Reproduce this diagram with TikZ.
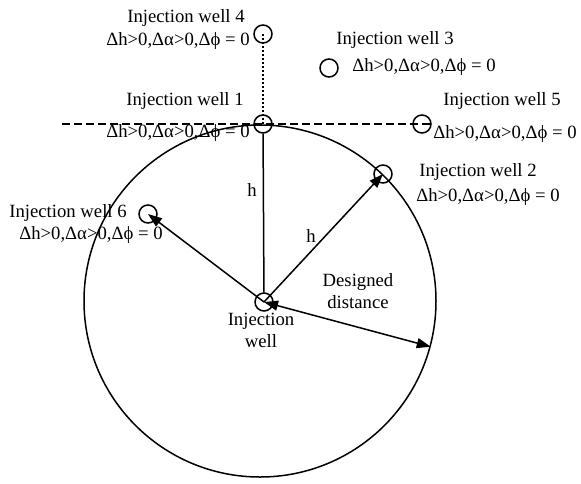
\documentclass[tikz,border=0pt]{standalone}
\usepackage{fontspec}
\setmainfont{Liberation Serif}
\usetikzlibrary{arrows.meta}
\begin{document}
\begin{tikzpicture}[x=1pt, y=-1pt, font=\fontsize{18.7}{22}\selectfont,
  >={Triangle[length=14pt, width=10pt]},
  well/.style={circle, draw, line width=1.5pt, minimum size=18pt, inner sep=0pt},
  lbl/.style={inner sep=0pt, align=center}]
\useasboundingbox (0,0) rectangle (581,483);
% designed area
\node[circle, draw, line width=1.5pt, minimum size=352pt, inner sep=0pt] (field) at (260,301) {};
% wells
\node[well] (w0) at (264,302) {};
\node[well] (w1) at (263,124) {};
\node[well] (w2) at (383,174) {};
\node[well] (w3) at (329,68)  {};
\node[well] (w4) at (263,34)  {};
\node[well] (w5) at (422,124) {};
\node[well] (w6) at (148,214) {};
% dashed and dotted guide lines
\coordinate (dl) at (62,124);
\coordinate (dr) at (432,124);
\draw[line width=2.2pt, dash pattern=on 8pt off 4pt] (dl) -- (dr);
\draw[line width=2pt, dotted] (w4.center) -- (w1.center);
% connectors
\draw[line width=1.5pt] (w0) -- (w1);
\draw[line width=1.5pt, ->] (w0.center) -- (w2.center);
\draw[line width=1.5pt, ->] (w0.center) -- (w6.center);
\draw[line width=1.5pt, <->] (w0.center) -- (field.-15);
% labels
\node[lbl] (h1) at (252,190) {h};
\node[lbl] (h2) at (311,236) {h};
\node[lbl] (dd) at (358,291) {Designed\\distance};
\node[lbl] (t0) at (261,330) {Injection\\well};
\node[lbl] (t4) at (186,18)  {Injection well 4};
\node[lbl] (c4) at (178,41)  {Δh>0,Δα>0,Δϕ = 0};
\node[lbl] (t3) at (395,40)  {Injection well 3};
\node[lbl] (c3) at (424,67)  {Δh>0,Δα>0,Δϕ = 0};
\node[lbl] (t1) at (185,101) {Injection well 1};
\node[lbl] (c1) at (178,133) {Δh>0,Δα>0,Δϕ = 0};
\node[lbl] (t5) at (502,101) {Injection well 5};
\node[lbl] (c5) at (505,134) {Δh>0,Δα>0,Δϕ = 0};
\node[lbl] (t2) at (478,172) {Injection well 2};
\node[lbl] (c2) at (488,197) {Δh>0,Δα>0,Δϕ = 0};
\node[lbl] (t6) at (68,213)  {Injection well 6};
\node[lbl] (c6) at (91,235)  {Δh>0,Δα>0,Δϕ = 0};
\end{tikzpicture}
\end{document}
